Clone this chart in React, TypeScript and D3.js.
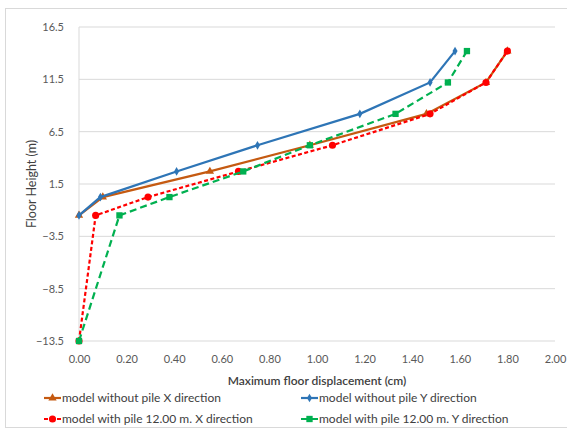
import React, { useRef, useEffect } from 'react';
import * as d3 from 'd3';

// floor levels (m)
const floorsNoPile = [-1.5, 0.25, 2.7, 5.2, 8.2, 11.2, 14.2];
const floorsPile = [-13.5, -1.5, 0.25, 2.7, 5.2, 8.2, 11.2, 14.2];

// displacements (cm)
const noPileX = [0, 0.1, 0.55, 0.97, 1.46, 1.71, 1.8];
const noPileY = [0, 0.09, 0.41, 0.75, 1.18, 1.475, 1.58];
const pileX = [0, 0.07, 0.29, 0.67, 1.065, 1.475, 1.71, 1.8];
const pileY = [0, 0.17, 0.38, 0.69, 0.97, 1.33, 1.55, 1.63];

const xTicks = [0, 0.2, 0.4, 0.6, 0.8, 1.0, 1.2, 1.4, 1.6, 1.8, 2.0];
const yTicks = [-13.5, -8.5, -3.5, 1.5, 6.5, 11.5, 16.5];

const seriesNames = [
    'model without pile X direction',
    'model without pile Y direction',
    'model with pile 12.00 m. X direction',
    'model with pile 12.00 m. Y direction',
];

const W = 567;
const H = 430;
const FONT = 'Lato, "Noto Sans", sans-serif';

const App = () => {
    const svgRef = useRef(null);

    useEffect(() => {
        const svg = d3.select(svgRef.current);
        svg.selectAll('*').remove();

        const margin = { top: 27, right: 12, bottom: 89, left: 79 };
        const width = W - margin.left - margin.right;
        const height = H - margin.top - margin.bottom;

        const x = d3.scaleLinear().domain([0, 2]).range([0, width]);
        const y = d3.scaleLinear().domain([-13.5, 16.5]).range([height, 0]);

        // background + frame
        svg.append('rect').attr('width', W).attr('height', H).attr('fill', '#fff');
        svg.append('rect')
            .attr('x', 5.5).attr('y', 8.5)
            .attr('width', W).attr('height', H - 11)
            .attr('fill', 'none').attr('stroke', '#d9d9d9');

        const g = svg.append('g').attr('transform', `translate(${margin.left},${margin.top})`);

        // gridlines
        g.append('g').selectAll('line')
            .data(yTicks)
            .join('line')
            .attr('x1', 0).attr('x2', width)
            .attr('y1', d => y(d)).attr('y2', d => y(d))
            .attr('stroke', '#d9d9d9').attr('stroke-width', 1);
        g.append('line')
            .attr('x1', 0).attr('x2', 0).attr('y1', 0).attr('y2', height)
            .attr('stroke', '#d9d9d9');

        // axes
        const yAxis = d3.axisLeft(y).tickValues(yTicks).tickSize(0).tickPadding(15).tickFormat(d3.format('.1f'));
        g.append('g').call(yAxis).call(a => a.select('.domain').remove())
            .selectAll('text').attr('fill', '#595959').style('font-size', '11px').style('font-family', FONT);

        const xAxis = d3.axisBottom(x).tickValues(xTicks).tickSize(0).tickPadding(14).tickFormat(d3.format('.2f'));
        g.append('g').attr('transform', `translate(0,${height})`).call(xAxis)
            .call(a => a.select('.domain').remove())
            .selectAll('text').attr('fill', '#595959').style('font-size', '11px').style('font-family', FONT);

        // axis titles
        svg.append('text')
            .attr('x', margin.left + width / 2).attr('y', 385)
            .attr('text-anchor', 'middle')
            .style('font-size', '12px').style('font-family', FONT).style('font-weight', 600)
            .attr('fill', '#404040')
            .text('Maximum floor displacement (cm)');
        svg.append('text')
            .attr('transform', `translate(36,${margin.top + height / 2}) rotate(-90)`)
            .attr('text-anchor', 'middle')
            .style('font-size', '12.5px').style('font-family', FONT)
            .attr('fill', '#404040')
            .text('Floor Height (m)');

        const series = [
            { vals: noPileX, floors: floorsNoPile, color: '#C55A11', dash: null, marker: d3.symbolTriangle, msize: 30 },
            { vals: noPileY, floors: floorsNoPile, color: '#2E75B6', dash: null, marker: d3.symbolDiamond, msize: 22 },
            { vals: pileX, floors: floorsPile, color: '#FF0000', dash: '4,2.5', marker: d3.symbolCircle, msize: 40 },
            { vals: pileY, floors: floorsPile, color: '#00B050', dash: '7,4', marker: d3.symbolSquare, msize: 40 },
        ];

        const line = d3.line().x(d => x(d[0])).y(d => y(d[1]));

        series.forEach(s => {
            const pts = s.vals.map((v, i) => [v, s.floors[i]]);
            g.append('path')
                .datum(pts)
                .attr('d', line)
                .attr('fill', 'none')
                .attr('stroke', s.color)
                .attr('stroke-width', 2.2)
                .attr('stroke-dasharray', s.dash);
            g.append('g').selectAll('path')
                .data(pts)
                .join('path')
                .attr('transform', d => `translate(${x(d[0])},${y(d[1])})`)
                .attr('d', d3.symbol().type(s.marker).size(s.msize))
                .attr('fill', s.color);
        });

        // legend
        const legPos = [[44, 398], [301, 398], [44, 419], [301, 419]];
        series.forEach((s, i) => {
            const [lx, ly] = legPos[i];
            const lg = svg.append('g').attr('transform', `translate(${lx},${ly})`);
            lg.append('line')
                .attr('x1', 0).attr('x2', 17).attr('y1', 0).attr('y2', 0)
                .attr('stroke', s.color).attr('stroke-width', 2.2)
                .attr('stroke-dasharray', s.dash);
            lg.append('path')
                .attr('transform', 'translate(8.5,0)')
                .attr('d', d3.symbol().type(s.marker).size(s.msize))
                .attr('fill', s.color);
            lg.append('text')
                .attr('x', 18).attr('y', 0).attr('dy', '0.35em')
                .style('font-size', '12px').style('font-family', FONT)
                .attr('fill', '#404040')
                .text(seriesNames[i]);
        });
    }, []);

    return (
        <div style={{ position: 'fixed', left: 0, top: 0 }}>
            <svg ref={svgRef} width={W} height={H} style={{ display: 'block' }}></svg>
        </div>
    );
};

export default App;
